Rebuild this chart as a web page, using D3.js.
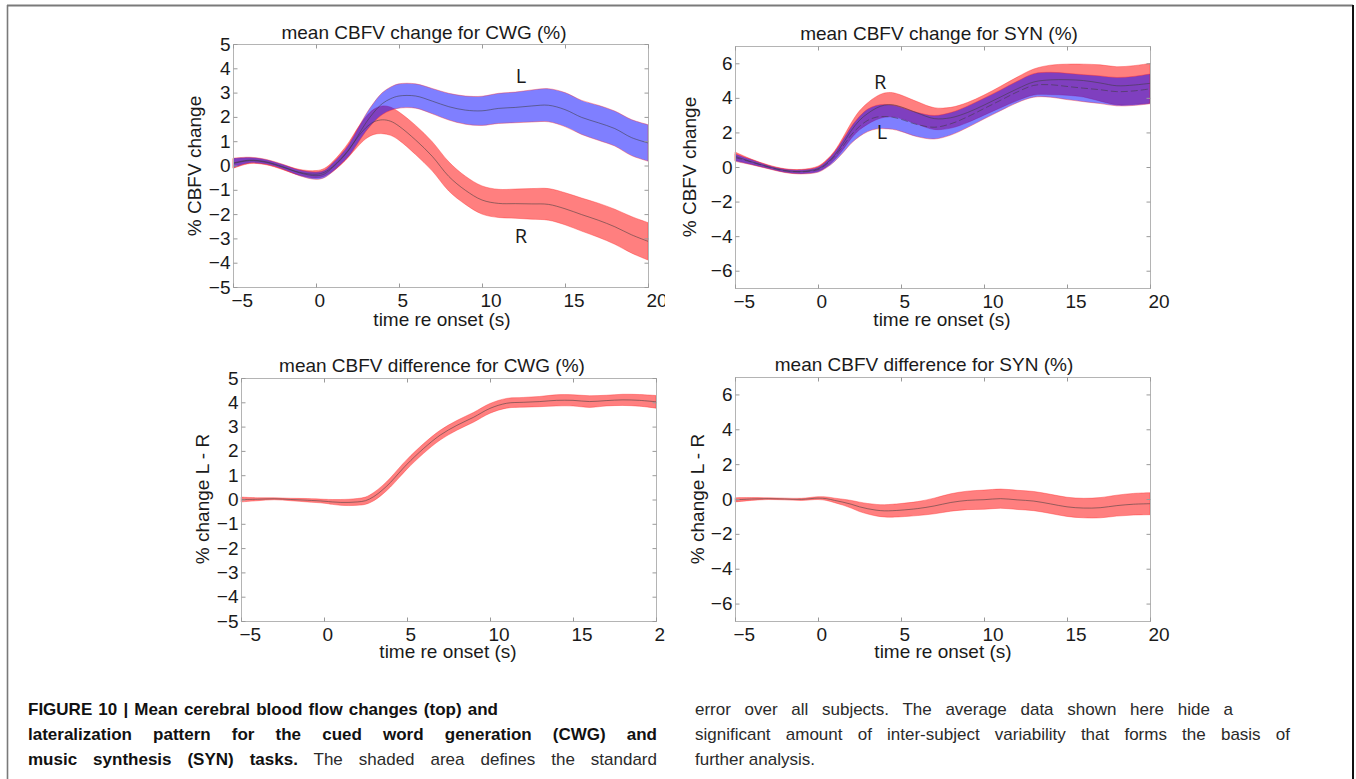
<!DOCTYPE html>
<html>
<head>
<meta charset="utf-8">
<script src="https://cdn.jsdelivr.net/npm/d3@7"></script>
<style>
  body { margin: 0; background: #fff; }
  svg { display: block; font-family: "Liberation Sans", Arial, Helvetica, sans-serif; }
</style>
</head>
<body>
<svg id="fig" width="1356" height="779"></svg>
<script>
// ---- data ---------------------------------------------------------------
// sample times relative to task onset (s)
const time = [-5, -4, -3, -2, -1, 0, 0.5, 1, 1.5, 2, 2.5, 3, 3.5, 4, 4.5, 5,
              6, 7, 8, 9, 10, 11, 12, 13, 14, 15, 16, 17, 18, 19, 20];

// CWG: mean CBFV change (%) and standard error, left / right
const cwgLeftMean  = [0.10, 0.22, 0.15, -0.05, -0.30, -0.42, -0.35, -0.08, 0.25, 0.65, 1.20, 1.75, 2.20, 2.55, 2.75, 2.86,
                      2.86, 2.65, 2.42, 2.28, 2.25, 2.35, 2.39, 2.45, 2.48, 2.30, 1.98, 1.76, 1.52, 1.15, 0.93];
const cwgLeftSE    = [0.20, 0.12, 0.10, 0.10, 0.12, 0.15, 0.15, 0.18, 0.20, 0.25, 0.30, 0.35, 0.40, 0.45, 0.48, 0.50,
                      0.50, 0.52, 0.55, 0.58, 0.60, 0.62, 0.63, 0.66, 0.68, 0.70, 0.70, 0.72, 0.72, 0.74, 0.75];
const cwgRightMean = [0.08, 0.20, 0.13, -0.07, -0.28, -0.36, -0.28, -0.05, 0.28, 0.68, 1.15, 1.55, 1.80, 1.88, 1.82, 1.62,
                      1.05, 0.38, -0.45, -1.02, -1.42, -1.56, -1.57, -1.58, -1.60, -1.78, -2.02, -2.25, -2.52, -2.85, -3.12];
const cwgRightSE   = [0.20, 0.12, 0.10, 0.10, 0.12, 0.15, 0.16, 0.20, 0.25, 0.30, 0.38, 0.45, 0.52, 0.57, 0.58, 0.58,
                      0.60, 0.60, 0.60, 0.58, 0.58, 0.58, 0.60, 0.63, 0.65, 0.66, 0.68, 0.70, 0.72, 0.75, 0.77];

// SYN: mean CBFV change (%) and standard error, left / right
const synLeftMean  = [0.55, 0.28, 0.00, -0.22, -0.28, -0.15, 0.15, 0.60, 1.20, 1.85, 2.35, 2.70, 2.88, 2.92, 2.88, 2.76,
                      2.45, 2.30, 2.50, 2.90, 3.38, 3.86, 4.34, 4.72, 4.76, 4.66, 4.56, 4.47, 4.36, 4.40, 4.52];
const synLeftSE    = [0.22, 0.15, 0.10, 0.10, 0.12, 0.15, 0.20, 0.28, 0.38, 0.48, 0.58, 0.65, 0.68, 0.70, 0.70, 0.70,
                      0.70, 0.68, 0.65, 0.62, 0.60, 0.60, 0.62, 0.68, 0.72, 0.76, 0.78, 0.80, 0.82, 0.84, 0.86];
const synRightMean = [0.62, 0.30, 0.02, -0.20, -0.26, -0.10, 0.20, 0.68, 1.35, 2.10, 2.70, 3.10, 3.40, 3.58, 3.60, 3.48,
                      3.12, 2.80, 2.85, 3.15, 3.58, 4.05, 4.52, 4.92, 5.04, 5.05, 5.00, 4.86, 4.70, 4.74, 4.84];
const synRightSE   = [0.25, 0.15, 0.10, 0.10, 0.12, 0.15, 0.20, 0.25, 0.35, 0.45, 0.55, 0.62, 0.67, 0.70, 0.70, 0.68,
                      0.65, 0.63, 0.60, 0.58, 0.58, 0.62, 0.68, 0.75, 0.85, 0.90, 0.95, 1.05, 1.10, 1.12, 1.15];

// lateralization (L - R) and standard error
const cwgDiffMean  = [0.00, 0.01, 0.03, 0.00, -0.03, -0.07, -0.10, -0.12, -0.12, -0.10, -0.05, 0.12, 0.38, 0.70, 1.08, 1.45,
                      2.10, 2.65, 3.05, 3.38, 3.75, 3.96, 4.00, 4.03, 4.08, 4.08, 4.03, 4.07, 4.10, 4.08, 4.02];
const cwgDiffSE    = [0.10, 0.06, 0.04, 0.05, 0.07, 0.08, 0.10, 0.12, 0.13, 0.14, 0.15, 0.17, 0.18, 0.19, 0.20, 0.20,
                      0.20, 0.20, 0.20, 0.20, 0.20, 0.20, 0.20, 0.21, 0.23, 0.23, 0.24, 0.22, 0.23, 0.24, 0.26];
const synDiffMean  = [-0.05, 0.00, 0.02, 0.00, -0.02, 0.05, 0.02, -0.08, -0.18, -0.30, -0.45, -0.56, -0.64, -0.68, -0.67, -0.64,
                      -0.55, -0.40, -0.20, -0.08, -0.04, 0.02, -0.05, -0.12, -0.28, -0.45, -0.52, -0.50, -0.38, -0.30, -0.27];
const synDiffSE    = [0.12, 0.08, 0.05, 0.05, 0.06, 0.08, 0.10, 0.13, 0.17, 0.22, 0.27, 0.30, 0.33, 0.35, 0.37, 0.38,
                      0.40, 0.45, 0.50, 0.53, 0.55, 0.55, 0.55, 0.55, 0.55, 0.55, 0.56, 0.58, 0.60, 0.62, 0.63];

// tick values
const xTicks       = [-5, 0, 5, 10, 15, 20];
const yTicksCwg    = [-5, -4, -3, -2, -1, 0, 1, 2, 3, 4, 5];
const yTicksSyn    = [-6, -4, -2, 0, 2, 4, 6];

// caption lines: [text, bold]
const captionLeft = [
  [["FIGURE 10 | Mean cerebral blood flow changes (top) and", true]],
  [["lateralization pattern for the cued word generation (CWG) and", true]],
  [["music synthesis (SYN) tasks.", true], [" The shaded area defines the standard", false]]
];
const captionRight = [
  [["error over all subjects. The average data shown here hide a", false]],
  [["significant amount of inter-subject variability that forms the basis of", false]],
  [["further analysis.", false]]
];

// ---- styling ------------------------------------------------------------
const RED_FILL  = "rgba(255, 0, 0, 0.5)";
const BLUE_FILL = "rgba(0, 0, 255, 0.5)";
const EDGE      = "rgba(255, 40, 40, 0.55)";
const MEAN_LINE = "rgba(60, 60, 60, 0.6)";
const BOX_COLOR = "#b4b4b4";
const TICK_COLOR = "#9a9a9a";
const FONT = 19;

const svg = d3.select("#fig");

// figure frame
svg.append("line").attr("x1", 7).attr("y1", 5.5).attr("x2", 1353).attr("y2", 5.5)
   .attr("stroke", "#7a7a7a").attr("stroke-width", 2);
svg.append("line").attr("x1", 7.5).attr("y1", 5).attr("x2", 7.5).attr("y2", 779)
   .attr("stroke", "#7a7a7a").attr("stroke-width", 1.6);
svg.append("line").attr("x1", 1353).attr("y1", 5).attr("x2", 1353).attr("y2", 779)
   .attr("stroke", "#111").attr("stroke-width", 2);

// the left-hand panels are cut off just past their right axis
svg.append("defs").append("clipPath").attr("id", "leftCrop")
   .append("rect").attr("x", 0).attr("y", 0).attr("width", 665).attr("height", 690);

const panels = [
  {
    box: [233, 44, 648, 287], yDomain: [-5, 5], yTicks: yTicksCwg, crop: true,
    title: "mean CBFV change for CWG (%)", titleAt: [424, 39],
    xlabel: "time re onset (s)", xlabelAt: [442, 326],
    ylabel: "% CBFV change", ylabelAt: [201, 166],
    series: [
      { mean: cwgRightMean, se: cwgRightSE, fill: RED_FILL, dash: null },
      { mean: cwgLeftMean,  se: cwgLeftSE,  fill: BLUE_FILL, dash: null }
    ],
    notes: [{ text: "L", t: 12.35, v: 3.4 }, { text: "R", t: 12.35, v: -3.2 }]
  },
  {
    box: [735, 46, 1150, 288], yDomain: [-7, 7], yTicks: yTicksSyn, crop: false,
    title: "mean CBFV change for SYN (%)", titleAt: [939, 40],
    xlabel: "time re onset (s)", xlabelAt: [942, 326],
    ylabel: "% CBFV change", ylabelAt: [696, 167],
    series: [
      { mean: synRightMean, se: synRightSE, fill: RED_FILL, dash: null },
      { mean: synLeftMean,  se: synLeftSE,  fill: BLUE_FILL, dash: "7,3" }
    ],
    notes: [{ text: "R", t: 3.75, v: 4.5 }, { text: "L", t: 3.85, v: 1.6 }]
  },
  {
    box: [241, 378, 656, 621], yDomain: [-5, 5], yTicks: yTicksCwg, crop: true,
    title: "mean CBFV difference for CWG (%)", titleAt: [432, 372],
    xlabel: "time re onset (s)", xlabelAt: [448, 658],
    ylabel: "% change L - R", ylabelAt: [209, 499],
    series: [{ mean: cwgDiffMean, se: cwgDiffSE, fill: RED_FILL, dash: null }],
    notes: []
  },
  {
    box: [735, 377, 1150, 621], yDomain: [-7, 7], yTicks: yTicksSyn, crop: false,
    title: "mean CBFV difference for SYN (%)", titleAt: [924, 371],
    xlabel: "time re onset (s)", xlabelAt: [943, 658],
    ylabel: "% change L - R", ylabelAt: [704, 499],
    series: [{ mean: synDiffMean, se: synDiffSE, fill: RED_FILL, dash: null }],
    notes: []
  }
];

panels.forEach(p => {
  const [x0, y0, x1, y1] = p.box;
  const g = svg.append("g");
  if (p.crop) g.attr("clip-path", "url(#leftCrop)");

  const x = d3.scaleLinear().domain([-5, 20]).range([x0, x1]);
  const y = d3.scaleLinear().domain(p.yDomain).range([y1, y0]);

  // shaded standard-error bands and mean traces
  p.series.forEach(s => {
    const rows = time.map((t, i) => ({ t, m: s.mean[i], e: s.se[i] }));
    const band = d3.area()
      .x(d => x(d.t)).y0(d => y(d.m - d.e)).y1(d => y(d.m + d.e))
      .curve(d3.curveCatmullRom.alpha(0.5));
    g.append("path").datum(rows).attr("d", band)
      .attr("fill", s.fill).attr("stroke", EDGE).attr("stroke-width", 0.7);
  });
  p.series.forEach(s => {
    const rows = time.map((t, i) => ({ t, m: s.mean[i] }));
    const line = d3.line().x(d => x(d.t)).y(d => y(d.m))
      .curve(d3.curveCatmullRom.alpha(0.5));
    const path = g.append("path").datum(rows).attr("d", line)
      .attr("fill", "none").attr("stroke", MEAN_LINE).attr("stroke-width", 0.9);
    if (s.dash) path.attr("stroke-dasharray", s.dash);
  });

  // plot box
  g.append("rect").attr("x", x0 + 0.5).attr("y", y0 + 0.5)
    .attr("width", x1 - x0).attr("height", y1 - y0)
    .attr("fill", "none").attr("stroke", BOX_COLOR).attr("stroke-width", 1);

  // axes with inward ticks on all four sides
  const styleAxis = sel => {
    sel.select(".domain").remove();
    sel.selectAll(".tick line").attr("stroke", TICK_COLOR);
    sel.selectAll(".tick text").attr("fill", "#1a1a1a")
      .attr("font-size", FONT).attr("font-family", "Liberation Sans, Arial, sans-serif");
  };
  g.append("g").attr("transform", `translate(0,${y1 + 0.5})`)
    .call(d3.axisBottom(x).tickValues(xTicks).tickSize(-4).tickPadding(6).tickFormat(d3.format("d")))
    .call(styleAxis)
    .call(a => a.selectAll(".tick text").attr("text-anchor", "start").attr("dx", -2));
  g.append("g").attr("transform", `translate(0,${y0 + 0.5})`)
    .call(d3.axisTop(x).tickValues(xTicks).tickSize(-4).tickFormat(""))
    .call(styleAxis);
  g.append("g").attr("transform", `translate(${x0 + 0.5},0)`)
    .call(d3.axisLeft(y).tickValues(p.yTicks).tickSize(-4).tickPadding(3).tickFormat(d3.format("d")))
    .call(styleAxis);
  g.append("g").attr("transform", `translate(${x1 + 0.5},0)`)
    .call(d3.axisRight(y).tickValues(p.yTicks).tickSize(-4).tickFormat(""))
    .call(styleAxis);

  // titles and axis labels
  g.append("text").attr("x", p.titleAt[0]).attr("y", p.titleAt[1])
    .attr("text-anchor", "middle").attr("font-size", FONT).attr("fill", "#1a1a1a").text(p.title);
  g.append("text").attr("x", p.xlabelAt[0]).attr("y", p.xlabelAt[1])
    .attr("text-anchor", "middle").attr("font-size", FONT).attr("fill", "#1a1a1a").text(p.xlabel);
  g.append("text").attr("transform", `translate(${p.ylabelAt[0]},${p.ylabelAt[1]}) rotate(-90)`)
    .attr("text-anchor", "middle").attr("font-size", FONT).attr("fill", "#1a1a1a").text(p.ylabel);

  // hemisphere annotations
  p.notes.forEach(n => {
    g.append("text").attr("x", x(n.t)).attr("y", y(n.v))
      .attr("text-anchor", "middle").attr("font-size", 20)
      .attr("font-family", "Open Sans, sans-serif").attr("fill", "#1a1a1a").text(n.text);
  });
});

// ---- caption ------------------------------------------------------------
// widths: target line length for justified lines (0 = set naturally)
function captionBlock(lines, x, baselines, widths) {
  lines.forEach((segs, i) => {
    const t = svg.append("text").attr("x", x).attr("y", baselines[i])
      .attr("font-size", 17).attr("xml:space", "preserve");
    segs.forEach(([str, bold]) => {
      t.append("tspan").text(str)
        .attr("font-weight", bold ? "bold" : "normal")
        .attr("fill", bold ? "#111" : "#2a2a2a");
    });
    const natural = t.node().getComputedTextLength();
    const full = segs.map(s => s[0]).join("");
    const gaps = (full.trim().match(/ /g) || []).length;
    if (gaps && widths[i] > 0) t.attr("word-spacing", Math.max(0, (widths[i] - natural) / gaps));
  });
}
captionBlock(captionLeft, 28, [715, 740, 765], [470, 629, 629]);
captionBlock(captionRight, 695, [715, 740, 765], [538, 595, 0]);
</script>
</body>
</html>
